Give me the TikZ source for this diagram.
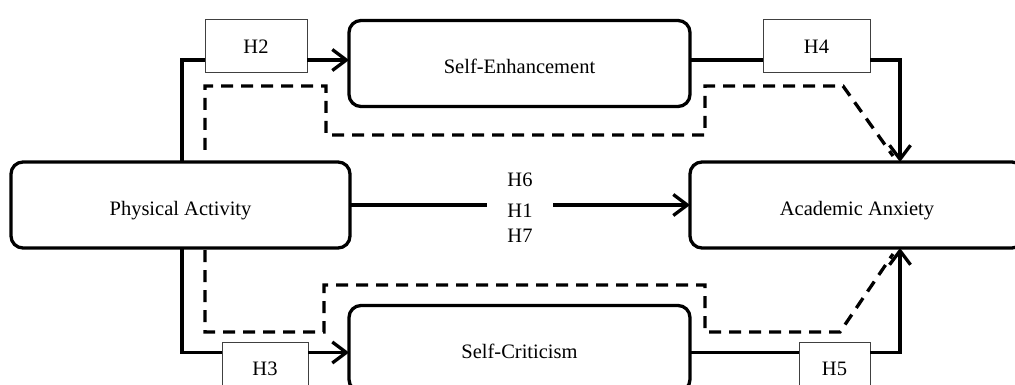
\documentclass[tikz,border=0pt]{standalone}
\usepackage{fontspec}
\setmainfont{Liberation Serif}
\usetikzlibrary{arrows.meta,calc}
\begin{document}
\begin{tikzpicture}[x=1pt,y=-1pt,
  bigbox/.style={draw,line width=3.3pt,rounded corners=12pt,minimum height=86pt,inner sep=0pt,outer sep=0pt,text height=20pt,text depth=0pt,font=\fontsize{20.5}{24}\selectfont},
  hbox/.style={draw=black!75,line width=1pt,minimum height=53pt,inner sep=0pt,outer sep=0pt,font=\fontsize{20.5}{24}\selectfont},
  lbl/.style={inner sep=0pt,font=\fontsize{20.5}{24}\selectfont},
  conn/.style={line width=3.3pt},
  arr/.style={conn,-{Straight Barb[length=14pt,width=21pt]}},
  dconn/.style={line width=3.3pt,dash pattern=on 12pt off 8pt}]
\useasboundingbox (0,0) rectangle (1015,385);
\clip (0,0) rectangle (1015,385);
% main boxes
\node[bigbox,minimum width=339pt] (PA) at (180.5,205) {Physical Activity};
\node[bigbox,minimum width=334pt] (AA) at (857,205) {Academic Anxiety};
\node[bigbox,minimum width=341pt] (SE) at (519.5,63.5) {Self-Enhancement};
\node[bigbox,minimum width=341pt] (SC) at (519.5,348.5) {Self-Criticism};
% hypothesis boxes
\node[hbox,minimum width=102pt] (H2) at (256,46.5) {H2};
\node[hbox,minimum width=107pt] (H4) at (816.5,46.5) {H4};
\node[hbox,minimum width=86pt] (H3) at (265,368.5) {H3};
\node[hbox,minimum width=71pt] (H5) at (834.5,368.5) {H5};
% middle labels
\node[lbl] (H6) at (520,180) {H6};
\node[lbl] (H1) at (520,211) {H1};
\node[lbl] (H7) at (520,236) {H7};
% helper coordinates
\coordinate (g1) at (487,205);
\coordinate (g2) at (553,205);
\coordinate (ptop) at (182,162);
\coordinate (pbot) at (182,248);
\coordinate (atop) at (900,162);
\coordinate (abot) at (900,248);
\coordinate (dt0) at (205,150);
\coordinate (db0) at (205,250);
\coordinate (dtend) at (893,156);
\coordinate (dbend) at (893,254);
% solid paths, upper
\draw[conn] (ptop) |- ([yshift=-13.5pt]H2.west);
\draw[arr] ([yshift=-13.5pt]H2.east) -- ([yshift=-13.5pt]H2.east -| SE.west);
\draw[conn] ([yshift=-13.5pt]H4.west -| SE.east) -- ([yshift=-13.5pt]H4.west);
\draw[arr] ([yshift=-13.5pt]H4.east) -| (atop);
% solid paths, lower
\draw[conn] (pbot) |- ([yshift=16pt]H3.west);
\draw[arr] ([yshift=16pt]H3.east) -- ([yshift=16pt]H3.east -| SC.west);
\draw[conn] ([yshift=16pt]H5.west -| SC.east) -- ([yshift=16pt]H5.west);
\draw[arr] ([yshift=16pt]H5.east) -| (abot);
% middle
\draw[conn] (PA.east) -- (g1);
\draw[arr] (g2) -- (AA.west);
% dashed paths
\draw[dconn] (dt0) -- (205,86) -- (326,86) -- (326,135) -- (705,135) -- (705,86) -- (843,86) -- (dtend);
\draw[dconn] (db0) -- (205,332) -- (324,332) -- (324,285) -- (705,285) -- (705,332) -- (840,332) -- (dbend);
\end{tikzpicture}
\end{document}
